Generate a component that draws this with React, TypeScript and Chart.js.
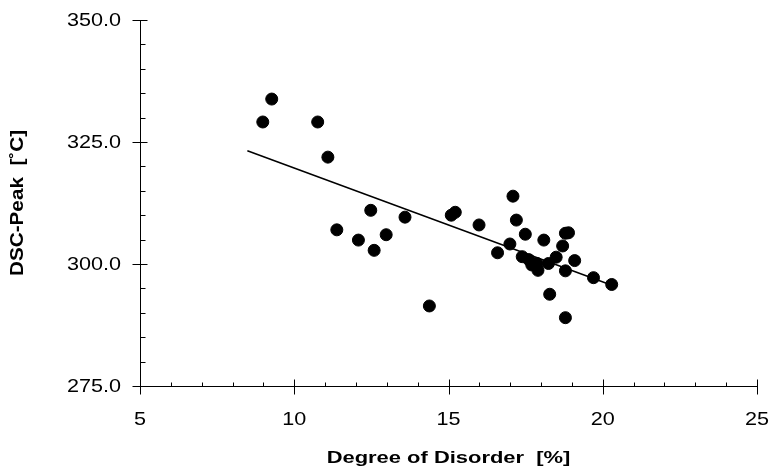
import React, { useEffect, useRef } from "react";
import { Chart, registerables } from "chart.js";

Chart.register(...registerables);

// Data
const disorder = [9.27, 8.98, 10.76, 11.09, 12.48, 11.38, 12.08, 12.59, 12.98, 13.59, 14.38, 15.09, 15.22, 15.99, 16.59, 17.09, 17.2, 16.99, 17.49, 18.09, 17.39, 17.6, 17.7, 17.87, 17.9, 18.24, 18.49, 18.79, 18.89, 18.7, 19.09, 18.79, 19.7, 20.29, 18.28, 18.79];
const dscPeak = [333.8, 329.1, 329.1, 321.9, 311.0, 307.0, 304.9, 302.8, 306.0, 309.6, 291.4, 310.0, 310.6, 308.0, 302.3, 313.9, 309.0, 304.1, 306.1, 304.9, 301.5, 300.9, 299.8, 300.1, 298.7, 300.1, 301.4, 306.3, 306.4, 303.7, 300.7, 298.6, 297.2, 295.8, 293.8, 289.0];
const fitX = [8.48, 20.14];
const fitY = [323.2, 296.0];

const xMajorTicks = [5, 10, 15, 20, 25];
const xTickLabels = ["5", "10", "15", "20", "25"];
const yMajorTicks = [275, 300, 325, 350];
const yTickLabels = ["275.0", "300.0", "325.0", "350.0"];
const xMinorStep = 1;
const yMinorStep = 5;

const xTitle = "Degree of Disorder  [%]";
const yTitle = "DSC-Peak  [˚C]";

const FONT = "'Liberation Sans', Arial, sans-serif";

function drawText(ctx: CanvasRenderingContext2D, text: string, x: number, y: number, font: string, align: CanvasTextAlign, sx: number, rot = 0) {
  ctx.save();
  ctx.translate(x, y);
  if (rot) ctx.rotate(rot);
  ctx.scale(sx, 1);
  ctx.font = font;
  ctx.fillStyle = "#000";
  ctx.textAlign = align;
  ctx.textBaseline = "middle";
  ctx.fillText(text, 0, 0);
  ctx.restore();
}

const axesPlugin = {
  id: "customAxes",
  afterDraw(chart: any) {
    const ctx: CanvasRenderingContext2D = chart.ctx;
    const xs = chart.scales.x;
    const ys = chart.scales.y;
    const area = chart.chartArea;
    const left = Math.round(area.left) + 0.5;
    const bottom = Math.round(area.bottom) + 0.5;
    ctx.save();
    ctx.strokeStyle = "#000";
    ctx.lineWidth = 1;
    ctx.beginPath();
    ctx.moveTo(left, Math.round(area.top));
    ctx.lineTo(left, bottom);
    ctx.lineTo(Math.round(area.right) + 1, bottom);
    // y minor ticks
    for (let v = ys.min; v <= ys.max + 1e-6; v += yMinorStep) {
      const py = Math.round(ys.getPixelForValue(v)) + 0.5;
      if (yMajorTicks.includes(Math.round(v))) {
        ctx.moveTo(left - 8, py);
        ctx.lineTo(left + 7, py);
      } else {
        ctx.moveTo(left, py);
        ctx.lineTo(left + 5, py);
      }
    }
    for (let v = xs.min; v <= xs.max + 1e-6; v += xMinorStep) {
      const px = Math.round(xs.getPixelForValue(v)) + 0.5;
      if (xMajorTicks.includes(Math.round(v))) {
        ctx.moveTo(px, bottom - 7);
        ctx.lineTo(px, bottom + 8);
      } else {
        ctx.moveTo(px, bottom);
        ctx.lineTo(px, bottom - 4);
      }
    }
    ctx.stroke();
    ctx.restore();

    const tickFont = `18px ${FONT}`;
    yMajorTicks.forEach((v, i) => {
      drawText(ctx, yTickLabels[i], area.left - 19, ys.getPixelForValue(v) + 1, tickFont, "right", 1.2);
    });
    xMajorTicks.forEach((v, i) => {
      drawText(ctx, xTickLabels[i], xs.getPixelForValue(v), area.bottom + 34, tickFont, "center", 1.2);
    });
    const titleFont = `bold 17px ${FONT}`;
    drawText(ctx, xTitle, (area.left + area.right) / 2, area.bottom + 72, titleFont, "center", 1.29);
    drawText(ctx, yTitle, 18, (area.top + area.bottom) / 2, `bold 18px ${FONT}`, "center", 1.15, -Math.PI / 2);
  },
};

export default function App() {
  const ref = useRef<HTMLCanvasElement>(null);
  useEffect(() => {
    if (!ref.current) return;
    const chart = new Chart(ref.current, {
      type: "scatter",
      data: {
        datasets: [
          {
            label: "DSC-Peak",
            data: disorder.map((x, i) => ({ x, y: dscPeak[i] })),
            backgroundColor: "#000",
            borderColor: "#000",
            pointRadius: 6,
            pointHoverRadius: 6,
            showLine: false,
          },
          {
            label: "Fit",
            data: fitX.map((x, i) => ({ x, y: fitY[i] })),
            borderColor: "#000",
            borderWidth: 1.5,
            pointRadius: 0,
            showLine: true,
          },
        ],
      },
      options: {
        animation: false,
        responsive: false,
        maintainAspectRatio: false,
        devicePixelRatio: 1,
        layout: { padding: { left: 140, right: 14, top: 20, bottom: 82 } },
        plugins: { legend: { display: false }, tooltip: { enabled: false } },
        scales: {
          x: { type: "linear", min: 5, max: 25, display: false },
          y: { type: "linear", min: 275, max: 350, display: false },
        },
      },
      plugins: [axesPlugin],
    });
    return () => chart.destroy();
  }, []);
  return (
    <div style={{ position: "absolute", left: 0, top: 0, width: 771, height: 468, background: "#fff" }}>
      <canvas ref={ref} width={771} height={468} />
    </div>
  );
}
